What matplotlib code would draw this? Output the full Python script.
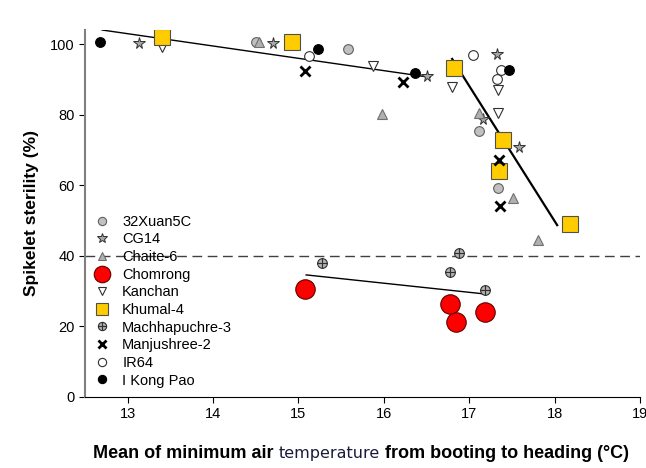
import numpy as np
import matplotlib.pyplot as plt
from matplotlib.path import Path

plt.rcParams['font.family'] = ['Liberation Sans', 'DejaVu Sans']

# Cultivars, in legend order
cultivars = ["32Xuan5C", "CG14", "Chaite-6", "Chomrong", "Kanchan", "Khumal-4",
             "Machhapuchre-3", "Manjushree-2", "IR64", "I Kong Pao"]

# Mean minimum air temperature (x) and spikelet sterility (y) per cultivar
x_32xuan = [14.50, 15.58, 17.11, 17.34]
y_32xuan = [100.5, 98.6, 75.4, 59.2]
x_cg14 = [13.13, 14.70, 16.51, 17.32, 17.16, 17.58]
y_cg14 = [100.3, 100.3, 90.9, 97.2, 78.8, 70.8]
x_chaite = [14.54, 15.98, 17.12, 17.51, 17.80]
y_chaite = [100.5, 80.2, 80.5, 56.4, 44.5]
x_chomrong = [15.08, 16.77, 16.85, 17.18]
y_chomrong = [30.6, 26.3, 21.2, 24.1]
x_kanchan = [13.40, 15.87, 16.80, 17.34, 17.34]
y_kanchan = [99.2, 93.8, 87.8, 87.0, 80.5]
x_khumal = [13.40, 14.93, 16.82, 17.40, 17.35, 18.18]
y_khumal = [102.0, 100.6, 93.2, 72.8, 64.0, 49.0]
x_machha = [15.27, 16.88, 16.78, 17.19]
y_machha = [38.0, 40.8, 35.4, 30.3]
x_manju = [15.08, 16.23, 17.35, 17.36]
y_manju = [92.4, 89.2, 67.1, 54.1]
x_ir64 = [15.12, 17.04, 17.37, 17.33]
y_ir64 = [96.6, 96.9, 92.6, 90.1]
x_ikong = [12.68, 15.23, 16.37, 17.47]
y_ikong = [100.6, 98.6, 91.8, 92.6]

# Fitted trend lines (end points)
fit1_x = [12.70, 16.54]
fit1_y = [104.0, 90.6]
fit2_x = [16.80, 18.03]
fit2_y = [95.8, 48.7]
fit3_x = [15.09, 17.18]
fit3_y = [34.6, 29.2]

threshold = 40

# circle with a cross inside
_circ = Path.unit_circle()
oplus = Path(np.concatenate([_circ.vertices, [[-1, 0], [1, 0], [0, -1], [0, 1]]]),
             np.concatenate([_circ.codes, [Path.MOVETO, Path.LINETO, Path.MOVETO, Path.LINETO]]))

series = [
    (x_32xuan, y_32xuan, dict(marker='o', ms=7, mfc='#c0c0c0', mec='#606060', mew=0.8)),
    (x_cg14, y_cg14, dict(marker='*', ms=8.5, mfc='#a8a8a8', mec='#303030', mew=0.7)),
    (x_chaite, y_chaite, dict(marker='^', ms=7.5, mfc='#b0b0b0', mec='#707070', mew=0.8)),
    (x_chomrong, y_chomrong, dict(marker='o', ms=14, mfc='#ff0000', mec='#600000', mew=0.8)),
    (x_kanchan, y_kanchan, dict(marker='v', ms=7, mfc='white', mec='#303030', mew=0.8)),
    (x_khumal, y_khumal, dict(marker='s', ms=11, mfc='#ffcc00', mec='#505050', mew=0.8)),
    (x_machha, y_machha, dict(marker=oplus, ms=7, mfc='#b0b0b0', mec='#303030', mew=0.8)),
    (x_manju, y_manju, dict(marker='x', ms=7, mfc='black', mec='black', mew=2.0)),
    (x_ir64, y_ir64, dict(marker='o', ms=7, mfc='white', mec='#303030', mew=0.8)),
    (x_ikong, y_ikong, dict(marker='o', ms=7, mfc='black', mec='black', mew=0.8)),
]

fig = plt.figure(figsize=(6.46, 4.68), dpi=100)
ax = fig.add_axes([85 / 646, 1 - 397 / 468, 555 / 646, 367 / 468])

ax.axhline(threshold, color='#404040', lw=1.0, ls=(0, (7, 4)), zorder=1)
ax.plot(fit1_x, fit1_y, color='black', lw=1.0, zorder=2)
ax.plot(fit2_x, fit2_y, color='black', lw=1.6, zorder=2)
ax.plot(fit3_x, fit3_y, color='black', lw=1.0, zorder=2)

for name, (xs, ys, style) in zip(cultivars, series):
    ax.plot(xs, ys, ls='none', label=name, zorder=3, **style)

ax.set_xlim(12.5, 19)
ax.set_ylim(0, 104)
ax.set_xticks(range(13, 20))
ax.set_yticks(range(0, 101, 20))
ax.tick_params(direction='out', length=4, labelsize=10.5)
for s in ['top', 'right']:
    ax.spines[s].set_visible(False)
ax.spines['left'].set_color('#808080')
ax.spines['left'].set_linewidth(1.5)
ax.spines['bottom'].set_color('black')

ax.set_ylabel("Spikelet sterility (%)", fontsize=12.5, fontweight='bold', labelpad=8)

ax.legend(loc='lower left', bbox_to_anchor=(0.0, 0.0), frameon=False, fontsize=10.5,
          handlelength=1.0, handletextpad=0.9, labelspacing=0.25, borderaxespad=0.25,
          markerscale=0.85)

# x label with mixed styling
pieces = [("Mean of minimum air ", dict(fontsize=13, fontweight='bold', color='black')),
          ("temperature", dict(fontsize=11.5, fontweight='normal', color='#1a1a3a',
                               family='DejaVu Sans')),
          (" from booting to heading (°C)", dict(fontsize=13, fontweight='bold', color='black'))]
fig.canvas.draw()
renderer = fig.canvas.get_renderer()
texts = []
widths = []
for txt, kw in pieces:
    t = fig.text(0, 0, txt, va='baseline', ha='left', **kw)
    widths.append(t.get_window_extent(renderer).width)
    texts.append(t)
x0 = 361 - sum(widths) / 2
base = 468 - 458
for t, w in zip(texts, widths):
    t.set_position((x0 / 646, base / 468))
    x0 += w

fig.savefig("out.png", dpi=100)
